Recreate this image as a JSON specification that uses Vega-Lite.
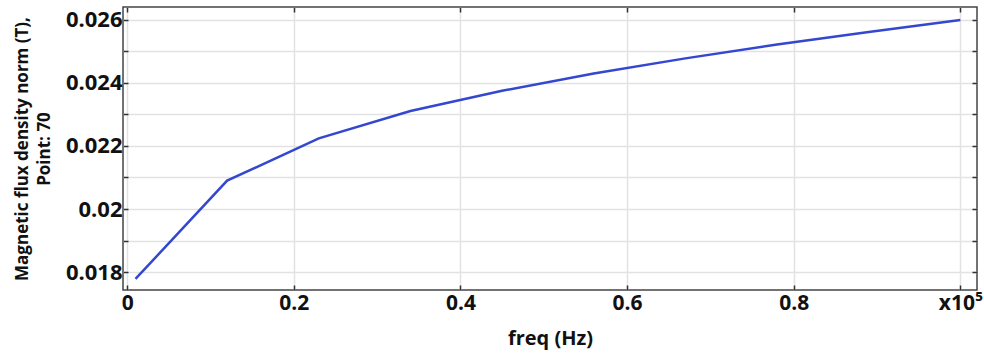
{
  "$schema": "https://vega.github.io/schema/vega-lite/v6.json",
  "width": 854,
  "height": 283,
  "autosize": {"type": "none"},
  "padding": {"left": 123, "top": 7, "right": 7, "bottom": 70},
  "background": "white",
  "config": {
    "font": "Open Sans",
    "view": {"stroke": "#444444", "strokeWidth": 1.5},
    "axis": {
      "domain": false,
      "tickColor": "#333333",
      "tickWidth": 1.5,
      "gridColor": "#e2e2e2",
      "gridWidth": 1.5,
      "labelFont": "Open Sans",
      "labelFontWeight": "bold",
      "labelColor": "#111111",
      "titleFont": "Open Sans",
      "titleFontWeight": "bold",
      "titleColor": "#111111"
    }
  },
  "data": {
    "values": [
      {"freq": 0.01, "B": 0.01778},
      {"freq": 0.12, "B": 0.02090},
      {"freq": 0.23, "B": 0.02224},
      {"freq": 0.34, "B": 0.02311},
      {"freq": 0.45, "B": 0.02375},
      {"freq": 0.56, "B": 0.02430},
      {"freq": 0.67, "B": 0.02478},
      {"freq": 0.78, "B": 0.02522},
      {"freq": 0.89, "B": 0.02562},
      {"freq": 1.0, "B": 0.02600}
    ]
  },
  "layer": [
    {
      "mark": {"type": "line", "color": "#3347cf", "strokeWidth": 2.5},
      "encoding": {
        "x": {
          "field": "freq",
          "type": "quantitative",
          "scale": {"domain": [-0.005, 1.02], "nice": false, "zero": false},
          "axis": {
            "orient": "bottom",
            "values": [0, 0.2, 0.4, 0.6, 0.8, 1],
            "format": "~g",
            "labelExpr": "datum.value == 1 ? 'x10⁵' : datum.label",
            "tickSize": -5,
            "labelPadding": 7,
            "labelFontSize": 21,
            "title": "freq (Hz)",
            "titleFontSize": 20,
            "titlePadding": 15
          }
        },
        "y": {
          "field": "B",
          "type": "quantitative",
          "scale": {"domain": [0.01743, 0.02641], "nice": false, "zero": false},
          "axis": {
            "orient": "left",
            "values": [0.018, 0.019, 0.02, 0.021, 0.022, 0.023, 0.024, 0.025, 0.026],
            "labelExpr": "round(datum.value * 1000) % 2 == 0 ? format(datum.value, '~g') : ''",
            "tickSize": -5,
            "labelPadding": 6,
            "labelFontSize": 22,
            "title": ["Magnetic flux density norm (T),", "Point: 70"],
            "titleFontSize": 17,
            "titleLineHeight": 22,
            "titlePadding": 12
          }
        }
      }
    },
    {
      "mark": {"type": "line", "opacity": 0},
      "encoding": {
        "x": {
          "field": "freq",
          "type": "quantitative",
          "axis": {
            "orient": "top",
            "values": [0, 0.2, 0.4, 0.6, 0.8, 1],
            "labels": false,
            "grid": false,
            "tickSize": -5,
            "title": null
          }
        },
        "y": {
          "field": "B",
          "type": "quantitative",
          "axis": {
            "orient": "right",
            "values": [0.018, 0.019, 0.02, 0.021, 0.022, 0.023, 0.024, 0.025, 0.026],
            "labels": false,
            "grid": false,
            "tickSize": -5,
            "title": null
          }
        }
      }
    }
  ],
  "resolve": {"axis": {"x": "independent", "y": "independent"}}
}
